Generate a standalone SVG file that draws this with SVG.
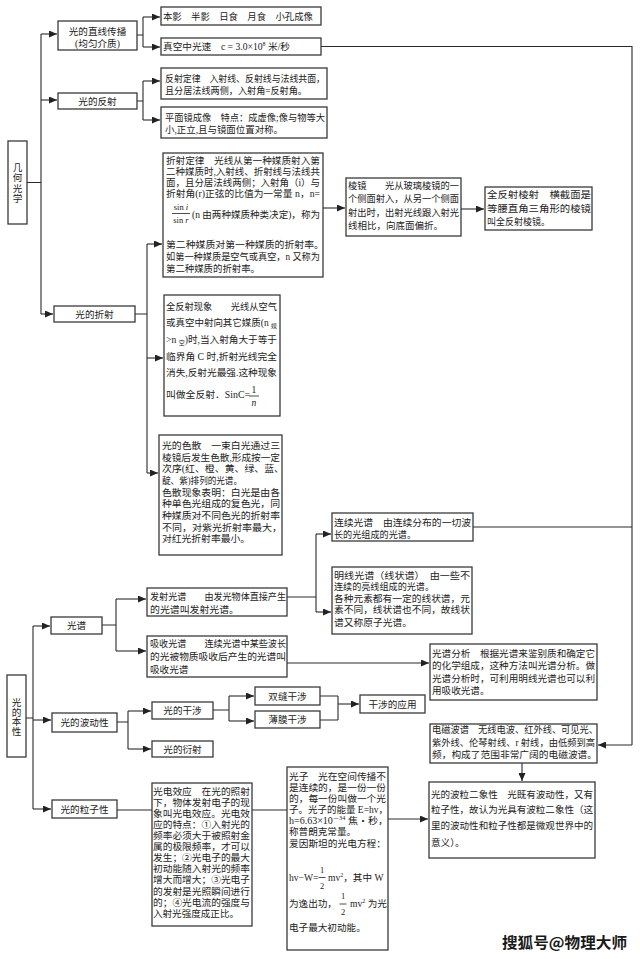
<svg xmlns="http://www.w3.org/2000/svg" width="640" height="959" viewBox="0 0 640 959">
<defs>
<marker id="ah" markerUnits="userSpaceOnUse" markerWidth="9" markerHeight="7" refX="8" refY="3.5" orient="auto">
<path d="M0,0 L8,3.5 L0,7 z" fill="#222"/>
</marker>
<style>
.b{fill:#fff;stroke:#3a3a3a;stroke-width:1.3}
.c{fill:none;stroke:#2a2a2a;stroke-width:1.1}
.a{marker-end:url(#ah)}
text{font-family:"Liberation Serif","Noto Sans CJK SC",serif;font-size:9.6px;fill:#222}
.m{text-anchor:middle}
.s{font-size:6px}
.f{font-size:8.5px}
.i{font-style:italic}
</style>
</defs>
<rect width="640" height="959" fill="#fff"/>

<g id="connectors">
<path class="c" d="M27,182.5 H41 M41,34 V314 M137,35 H143 M143,17 V47 M137,101 H143 M143,81 V120 M321,46.5 H632 V745 M473,527 H632 M135,314 H147 M147,244 V473"/>
<path class="c a" d="M41,34 H57"/>
<path class="c a" d="M41,100 H57"/>
<path class="c a" d="M41,314 H53"/>
<path class="c a" d="M143,17 H160"/>
<path class="c a" d="M143,47 H160"/>
<path class="c a" d="M143,81 H160"/>
<path class="c a" d="M143,120 H160"/>
<path class="c a" d="M632,745 H598"/>
<path class="c a" d="M147,244 H162"/>
<path class="c a" d="M147,358 H163"/>
<path class="c a" d="M147,473 H158"/>
<path class="c a" d="M323,208 H345"/>
<path class="c a" d="M461,209 H484"/>

<path class="c" d="M26,718 H33 M33,626 V809 M102,625 H116 M116,599 V651 M287,597 H316 M316,534 V612 M117,722 H128 M128,711 V749 M213,710 H229 M229,696 V721 M320,696 H338 M320,720 H338 M338,696 V720 M117,810 H152 M252,810 H287"/>
<path class="c a" d="M33,626 H50"/>
<path class="c a" d="M33,720 H51"/>
<path class="c a" d="M33,809 H51"/>
<path class="c a" d="M116,599 H146"/>
<path class="c a" d="M116,651 H146"/>
<path class="c a" d="M316,534 H331"/>
<path class="c a" d="M316,612 H331"/>
<path class="c a" d="M287,663 H429"/>
<path class="c a" d="M128,711 H151"/>
<path class="c a" d="M128,749 H151"/>
<path class="c a" d="M229,696 H254"/>
<path class="c a" d="M229,721 H254"/>
<path class="c a" d="M338,704 H359"/>
<path class="c a" d="M388,819 H428"/>
<path class="c a" d="M522,763 V781"/>
</g>

<g id="n-jihe">
<rect class="b" x="8" y="141" width="19" height="83"/>
<text class="m" x="17.5" y="170.5">几</text>
<text class="m" x="17.5" y="181">何</text>
<text class="m" x="17.5" y="191.5">光</text>
<text class="m" x="17.5" y="202">学</text>
</g>

<g id="n-zhixian">
<rect class="b" x="58" y="21" width="79" height="29"/>
<text class="m" x="97.5" y="34.5">光的直线传播</text>
<text class="m" x="97.5" y="46.5">(均匀介质)</text>
</g>

<g id="n-benying">
<rect class="b" x="161" y="7" width="160" height="18"/>
<text x="163" y="20" textLength="150" lengthAdjust="spacingAndGlyphs">本影　半影　日食　月食　小孔成像</text>
</g>

<g id="n-guangsu">
<rect class="b" x="161" y="38" width="160" height="17"/>
<text x="163" y="50" textLength="127" lengthAdjust="spacingAndGlyphs">真空中光速　c = 3.0×10<tspan class="s" dy="-4">8</tspan><tspan dy="4"> 米/秒</tspan></text>
</g>

<g id="n-fanshe">
<rect class="b" x="58" y="93" width="79" height="16"/>
<text class="m" x="97.5" y="104.5">光的反射</text>
</g>

<g id="n-fanshedinglv">
<rect class="b" x="161" y="68" width="166" height="31"/>
<text x="165" y="82" textLength="160" lengthAdjust="spacingAndGlyphs">反射定律　入射线、反射线与法线共面，</text>
<text x="165" y="94" textLength="142" lengthAdjust="spacingAndGlyphs">且分居法线两侧，入射角=反射角。</text>
</g>

<g id="n-pingmianjing">
<rect class="b" x="161" y="107" width="166" height="31"/>
<text x="165" y="121" textLength="160" lengthAdjust="spacingAndGlyphs">平面镜成像　特点：成虚像;像与物等大</text>
<text x="165" y="133" textLength="118" lengthAdjust="spacingAndGlyphs">小,正立,且与镜面位置对称。</text>
</g>

<g id="n-zheshe">
<rect class="b" x="54" y="306" width="81" height="16"/>
<text class="m" x="94.5" y="317.5">光的折射</text>
</g>

<g id="n-zheshedinglv">
<rect class="b" x="163" y="153" width="160" height="124"/>
<text x="166" y="164" textLength="154" lengthAdjust="spacingAndGlyphs">折射定律　光线从第一种媒质射入第</text>
<text x="166" y="175" textLength="154" lengthAdjust="spacingAndGlyphs">二种媒质时,入射线、折射线与法线共</text>
<text x="166" y="186" textLength="154" lengthAdjust="spacingAndGlyphs">面，且分居法线两侧；入射角（i）与</text>
<text x="166" y="197" textLength="154" lengthAdjust="spacingAndGlyphs">折射角(r)正弦的比值为一常量 n，n=</text>
<text class="m f" x="181" y="210">sin <tspan class="i">i</tspan></text>
<path d="M172,213.5 H190" stroke="#222" stroke-width="0.8"/>
<text class="m f" x="181" y="223">sin <tspan class="i">r</tspan></text>
<text x="192" y="218" textLength="128" lengthAdjust="spacingAndGlyphs">(n 由两种媒质种类决定)，称为</text>
<text x="166" y="248" textLength="158" lengthAdjust="spacingAndGlyphs">第二种媒质对第一种媒质的折射率。</text>
<text x="166" y="260" textLength="154" lengthAdjust="spacingAndGlyphs">如第一种媒质是空气或真空，n 又称为</text>
<text x="166" y="272" textLength="94" lengthAdjust="spacingAndGlyphs">第二种媒质的折射率。</text>
</g>

<g id="n-lengjing">
<rect class="b" x="346" y="178" width="115" height="58"/>
<text x="348" y="189" textLength="111" lengthAdjust="spacingAndGlyphs">棱镜　　光从玻璃棱镜的一</text>
<text x="348" y="202" textLength="111" lengthAdjust="spacingAndGlyphs">个侧面射入，从另一个侧面</text>
<text x="348" y="216" textLength="111" lengthAdjust="spacingAndGlyphs">射出时，出射光线跟入射光</text>
<text x="348" y="229" textLength="95" lengthAdjust="spacingAndGlyphs">线相比，向底面偏折。</text>
</g>

<g id="n-quanfanshelengjing">
<rect class="b" x="485" y="187" width="107" height="43"/>
<text x="487" y="198" textLength="104" lengthAdjust="spacingAndGlyphs">全反射棱射　横截面是</text>
<text x="487" y="212" textLength="104" lengthAdjust="spacingAndGlyphs">等腰直角三角形的棱镜</text>
<text x="487" y="225" textLength="63" lengthAdjust="spacingAndGlyphs">叫全反射棱镜。</text>
</g>

<g id="n-quanfanshe">
<rect class="b" x="164" y="295" width="116" height="121"/>
<text x="166" y="310" textLength="111" lengthAdjust="spacingAndGlyphs">全反射现象　　光线从空气</text>
<text x="166" y="326" textLength="111" lengthAdjust="spacingAndGlyphs">或真空中射向其它媒质(n <tspan class="s" dy="2">媒</tspan></text>
<text x="166" y="343" textLength="111" lengthAdjust="spacingAndGlyphs">&gt;n <tspan class="s" dy="2">空</tspan><tspan dy="-2">)时,当入射角大于等于</tspan></text>
<text x="166" y="360" textLength="111" lengthAdjust="spacingAndGlyphs">临界角 C 时,折射光线完全</text>
<text x="166" y="376" textLength="111" lengthAdjust="spacingAndGlyphs">消失,反射光最强.这种现象</text>
<text x="166" y="398" textLength="84" lengthAdjust="spacingAndGlyphs">叫做全反射．SinC=</text>
<text class="m" x="254" y="393">1</text>
<path d="M249,396 H259" stroke="#222" stroke-width="0.8"/>
<text class="m i" x="254" y="406">n</text>
</g>

<g id="n-sesan">
<rect class="b" x="159" y="435" width="123" height="120"/>
<text x="162" y="449" textLength="118" lengthAdjust="spacingAndGlyphs">光的色散　一束白光通过三</text>
<text x="162" y="461" textLength="118" lengthAdjust="spacingAndGlyphs">棱镜后发生色散,形成按一定</text>
<text x="162" y="472" textLength="122" lengthAdjust="spacingAndGlyphs">次序(红、橙、黄、绿、蓝、</text>
<text x="162" y="484" textLength="80" lengthAdjust="spacingAndGlyphs">靛、紫)排列的光谱。</text>
<text x="162" y="496" textLength="118" lengthAdjust="spacingAndGlyphs">色散现象表明：白光是由各</text>
<text x="162" y="507" textLength="118" lengthAdjust="spacingAndGlyphs">种单色光组成的复色光，同</text>
<text x="162" y="519" textLength="118" lengthAdjust="spacingAndGlyphs">种媒质对不同色光的折射率</text>
<text x="162" y="531" textLength="120" lengthAdjust="spacingAndGlyphs">不同，对紫光折射率最大，</text>
<text x="162" y="542" textLength="88" lengthAdjust="spacingAndGlyphs">对红光折射率最小。</text>
</g>

<g id="n-benxing">
<rect class="b" x="7" y="675" width="19" height="82"/>
<text class="m" x="16.5" y="705.5">光</text>
<text class="m" x="16.5" y="715.5">的</text>
<text class="m" x="16.5" y="725">本</text>
<text class="m" x="16.5" y="734.5">性</text>
</g>

<g id="n-guangpu">
<rect class="b" x="51" y="617" width="51" height="17"/>
<text class="m" x="76.5" y="629">光谱</text>
</g>

<g id="n-fasheguangpu">
<rect class="b" x="147" y="588" width="140" height="28"/>
<text x="150" y="600" textLength="136" lengthAdjust="spacingAndGlyphs">发射光谱　　由发光物体直接产生</text>
<text x="150" y="613" textLength="89" lengthAdjust="spacingAndGlyphs">的光谱叫发射光谱。</text>
</g>

<g id="n-xishouguangpu">
<rect class="b" x="147" y="636" width="140" height="41"/>
<text x="150" y="647" textLength="136" lengthAdjust="spacingAndGlyphs">吸收光谱　　连续光谱中某些波长</text>
<text x="150" y="660" textLength="136" lengthAdjust="spacingAndGlyphs">的光被物质吸收后产生的光谱叫</text>
<text x="150" y="673">吸收光谱</text>
</g>

<g id="n-lianxu">
<rect class="b" x="332" y="513" width="141" height="28"/>
<text x="334" y="526" textLength="137" lengthAdjust="spacingAndGlyphs">连续光谱　由连续分布的一切波</text>
<text x="334" y="538" textLength="82" lengthAdjust="spacingAndGlyphs">长的光组成的光谱。</text>
</g>

<g id="n-mingxian">
<rect class="b" x="332" y="567" width="140" height="67"/>
<text x="334" y="579" textLength="136" lengthAdjust="spacingAndGlyphs">明线光谱（线状谱）　由一些不</text>
<text x="334" y="590" textLength="100" lengthAdjust="spacingAndGlyphs">连续的亮线组成的光谱。</text>
<text x="334" y="602" textLength="136" lengthAdjust="spacingAndGlyphs">各种元素都有一定的线状谱，元</text>
<text x="334" y="613" textLength="136" lengthAdjust="spacingAndGlyphs">素不同，线状谱也不同，故线状</text>
<text x="334" y="626" textLength="78" lengthAdjust="spacingAndGlyphs">谱又称原子光谱。</text>
</g>

<g id="n-fenxi">
<rect class="b" x="430" y="644" width="167" height="56"/>
<text x="432" y="657" textLength="163" lengthAdjust="spacingAndGlyphs">光谱分析　根据光谱来鉴别质和确定它</text>
<text x="432" y="669" textLength="163" lengthAdjust="spacingAndGlyphs">的化学组成，这种方法叫光谱分析。做</text>
<text x="432" y="682" textLength="163" lengthAdjust="spacingAndGlyphs">光谱分析时，可利用明线光谱也可以利</text>
<text x="432" y="694">用吸收光谱。</text>
</g>

<g id="n-diancibopu">
<rect class="b" x="430" y="724" width="167" height="39"/>
<text x="432" y="733" textLength="166" lengthAdjust="spacingAndGlyphs">电磁波谱　无线电波、红外线、可见光、</text>
<text x="432" y="746" textLength="163" lengthAdjust="spacingAndGlyphs">紫外线、伦琴射线、r 射线，由低频到高</text>
<text x="432" y="758" textLength="165" lengthAdjust="spacingAndGlyphs">频，构成了范围非常广阔的电磁波谱。</text>
</g>

<g id="n-bodong">
<rect class="b" x="52" y="713" width="65" height="19"/>
<text class="m" x="84.5" y="726">光的波动性</text>
</g>

<g id="n-ganshe">
<rect class="b" x="152" y="702" width="61" height="17"/>
<text class="m" x="182.5" y="714">光的干涉</text>
</g>

<g id="n-yanshe">
<rect class="b" x="152" y="741" width="61" height="16"/>
<text class="m" x="182.5" y="752.5">光的衍射</text>
</g>

<g id="n-shuangfeng">
<rect class="b" x="255" y="687" width="65" height="18"/>
<text class="m" x="287.5" y="699.5">双缝干涉</text>
</g>

<g id="n-bomo">
<rect class="b" x="255" y="711" width="65" height="17"/>
<text class="m" x="287.5" y="723">薄膜干涉</text>
</g>

<g id="n-yingyong">
<rect class="b" x="360" y="695" width="65" height="18"/>
<text class="m" x="392.5" y="707.5">干涉的应用</text>
</g>

<g id="n-lizi">
<rect class="b" x="52" y="800" width="65" height="18"/>
<text class="m" x="84.5" y="812.5">光的粒子性</text>
</g>

<g id="n-guangdian">
<rect class="b" x="152" y="783" width="100" height="143"/>
<text x="153" y="795" textLength="97" lengthAdjust="spacingAndGlyphs">光电效应　在光的照射</text>
<text x="153" y="806" textLength="97" lengthAdjust="spacingAndGlyphs">下，物体发射电子的现</text>
<text x="153" y="817" textLength="97" lengthAdjust="spacingAndGlyphs">象叫光电效应。光电效</text>
<text x="153" y="828" textLength="97" lengthAdjust="spacingAndGlyphs">应的特点：①入射光的</text>
<text x="153" y="839" textLength="97" lengthAdjust="spacingAndGlyphs">频率必须大于被照射金</text>
<text x="153" y="850" textLength="97" lengthAdjust="spacingAndGlyphs">属的极限频率，才可以</text>
<text x="153" y="861" textLength="97" lengthAdjust="spacingAndGlyphs">发生；②光电子的最大</text>
<text x="153" y="872" textLength="97" lengthAdjust="spacingAndGlyphs">初动能随入射光的频率</text>
<text x="153" y="883" textLength="97" lengthAdjust="spacingAndGlyphs">增大而增大；③光电子</text>
<text x="153" y="895" textLength="97" lengthAdjust="spacingAndGlyphs">的发射是光照瞬间进行</text>
<text x="153" y="906" textLength="97" lengthAdjust="spacingAndGlyphs">的；④光电流的强度与</text>
<text x="153" y="917" textLength="86" lengthAdjust="spacingAndGlyphs">入射光强度成正比。</text>
</g>

<g id="n-guangzi">
<rect class="b" x="287" y="767" width="101" height="183"/>
<text x="289" y="780" textLength="97" lengthAdjust="spacingAndGlyphs">光子　光在空间传播不</text>
<text x="289" y="791" textLength="97" lengthAdjust="spacingAndGlyphs">是连续的，是一份一份</text>
<text x="289" y="802" textLength="97" lengthAdjust="spacingAndGlyphs">的，每一份叫做一个光</text>
<text x="289" y="813" textLength="99" lengthAdjust="spacingAndGlyphs">子。光子的能量 E=hv，</text>
<text x="289" y="824" textLength="99" lengthAdjust="spacingAndGlyphs">h=6.63×10<tspan class="s" dy="-4">－34</tspan><tspan dy="4"> 焦・秒，</tspan></text>
<text x="289" y="835">称普朗克常量。</text>
<text x="289" y="847" textLength="97" lengthAdjust="spacingAndGlyphs">爱因斯坦的光电方程：</text>
<text x="289" y="881">hv−W=</text>
<text class="m f" x="322" y="872.5">1</text>
<path d="M318.5,877.5 H325.5" stroke="#222" stroke-width="0.8"/>
<text class="m f" x="322" y="888.5">2</text>
<text x="328" y="881">mv<tspan class="s" dy="-4">2</tspan><tspan dy="4">，其中 W</tspan></text>
<text x="289" y="907">为逸出功，</text>
<text class="m f" x="343" y="899">1</text>
<path d="M339.5,904 H346.5" stroke="#222" stroke-width="0.8"/>
<text class="m f" x="343" y="915">2</text>
<text x="350" y="907">mv<tspan class="s" dy="-4">2</tspan><tspan dy="4"> 为光</tspan></text>
<text x="289" y="931">电子最大初动能。</text>
</g>

<g id="n-bolierxiang">
<rect class="b" x="429" y="782" width="166" height="76"/>
<text x="431" y="798" textLength="162" lengthAdjust="spacingAndGlyphs">光的波粒二象性　光既有波动性，又有</text>
<text x="431" y="813" textLength="162" lengthAdjust="spacingAndGlyphs">粒子性，故认为光具有波粒二象性（这</text>
<text x="431" y="829" textLength="162" lengthAdjust="spacingAndGlyphs">里的波动性和粒子性都是微观世界中的</text>
<text x="431" y="846">意义）。</text>
</g>

<g id="watermark">
<text x="502" y="948" textLength="125" lengthAdjust="spacingAndGlyphs" style="font-family:'Noto Sans CJK SC',sans-serif;font-size:15px;font-weight:bold;fill:#1a1a1a;stroke:#fff;stroke-width:2;paint-order:stroke">搜狐号@物理大师</text>
</g>
</svg>
